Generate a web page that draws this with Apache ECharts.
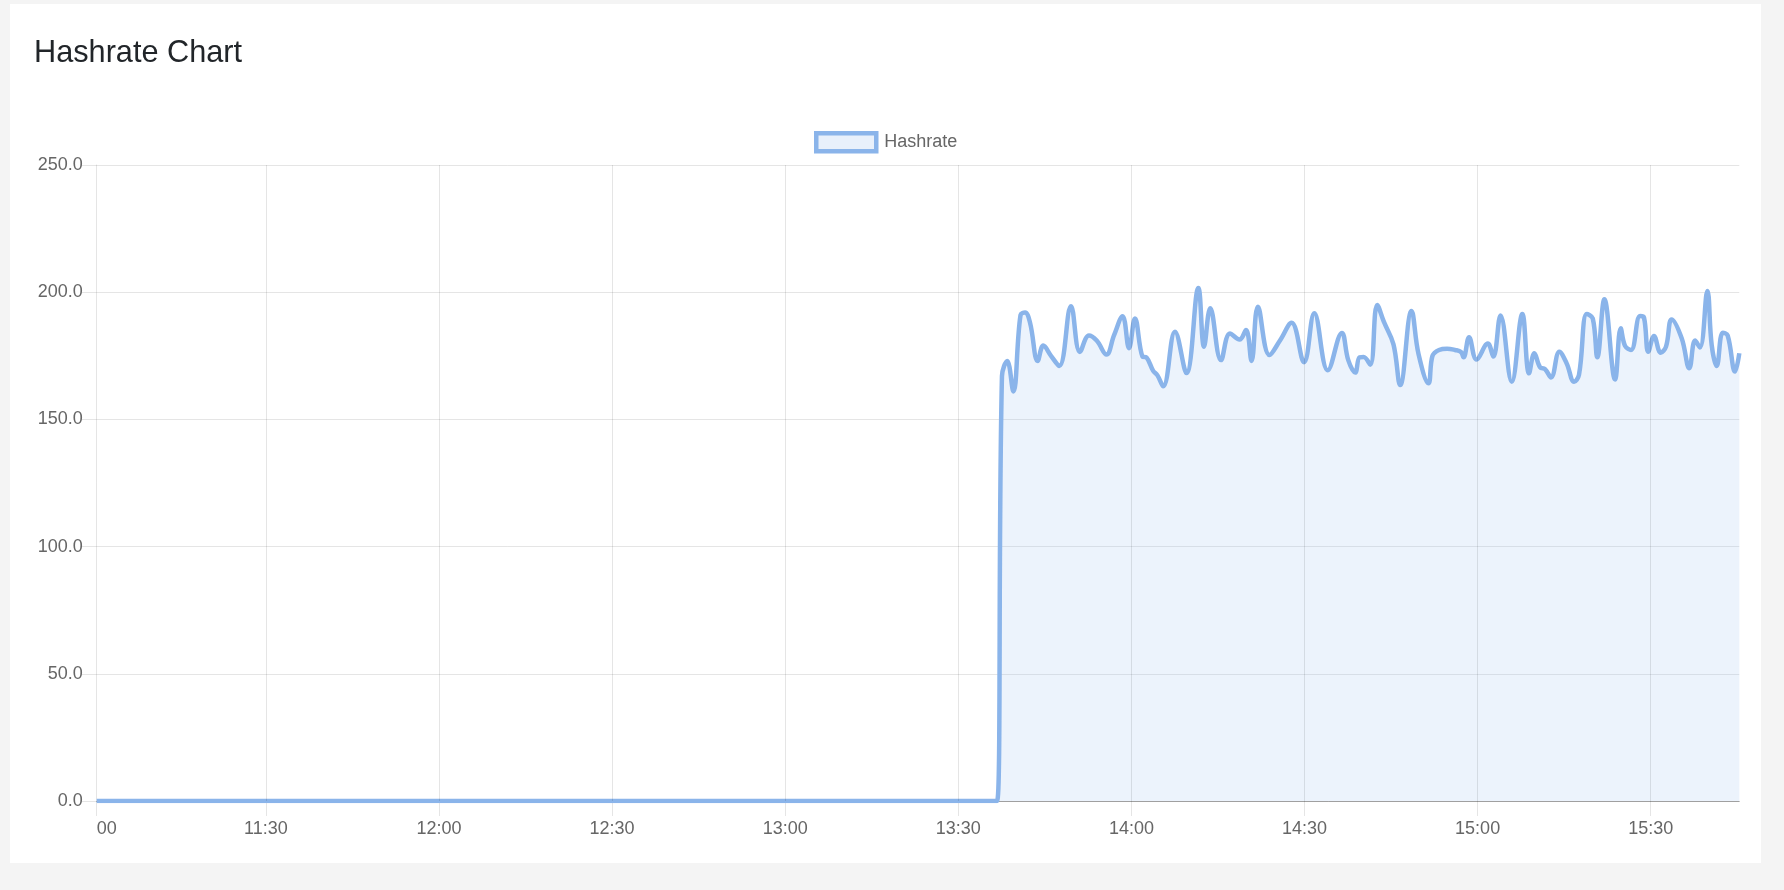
<!DOCTYPE html>
<html>
<head>
<meta charset="utf-8">
<script src="https://cdn.jsdelivr.net/npm/echarts@6/dist/echarts.min.js"></script>
<style>
html,body{margin:0;padding:0;width:1784px;height:890px;background:#f4f4f4;overflow:hidden;}
#card{position:absolute;left:10px;top:4px;width:1751px;height:859px;background:#ffffff;}
#chart{position:absolute;left:0;top:0;width:1784px;height:890px;}
</style>
</head>
<body>
<div id="card"></div>
<div id="chart"></div>
<script>
const chartTitle = 'Hashrate Chart';
const seriesName = 'Hashrate';
const baseDate = '2024-01-01';
const axisStart = '11:00:41';
const axisEnd = '15:45:21';
const xTickTimes = ['11:00:41', '11:30:00', '12:00:00', '12:30:00', '13:00:00', '13:30:00', '14:00:00', '14:30:00', '15:00:00', '15:30:00'];
const xTickLabels = ['00', '11:30', '12:00', '12:30', '13:00', '13:30', '14:00', '14:30', '15:00', '15:30'];
const yTickValues = [0, 50, 100, 150, 200, 250];

const sampleTimes = [
  '11:00:41','13:35:43','13:36:43','13:37:34','13:38:29','13:39:32','13:40:47','13:41:34','13:42:26','13:43:46',
  '13:44:44','13:46:04','13:47:30','13:49:32','13:51:05','13:52:39','13:53:59','13:55:41','13:56:59','13:58:28',
  '13:59:35','14:00:37','14:01:55','14:02:37','14:03:45','14:04:31','14:05:31','14:07:33','14:09:33','14:11:36',
  '14:12:35','14:13:40','14:15:32','14:17:05','14:18:44','14:19:52','14:20:49','14:21:55','14:23:56','14:25:45',
  '14:27:45','14:29:55','14:31:42','14:34:02','14:36:28','14:37:35','14:38:47','14:39:32','14:40:14','14:41:23',
  '14:42:36','14:43:47','14:45:25','14:46:35','14:48:32','14:49:46','14:51:29','14:52:11','14:53:19','14:54:42',
  '14:56:05','14:57:07','14:57:34','14:58:31','14:59:49','15:01:46','15:02:43','15:03:58','15:05:55','15:07:45',
  '15:08:55','15:09:50','15:10:49','15:11:41','15:12:43','15:14:10','15:15:26','15:16:43','15:17:34','15:18:55',
  '15:19:57','15:20:45','15:21:58','15:23:49','15:24:48','15:25:33','15:26:35','15:28:09','15:28:50','15:29:35',
  '15:30:34','15:31:44','15:32:39','15:33:38','15:35:22','15:36:41','15:37:41','15:38:32','15:39:49','15:40:34',
  '15:41:26','15:42:29','15:43:20','15:44:37','15:45:21'
];
const hashrateValues = [
  0, 0, 0, 167, 173, 161, 191, 192, 188, 173,
  179, 175, 171, 194.5, 176.5, 183, 181, 175.5, 183, 190.5,
  178, 189.7, 174.7, 174.3, 169.2, 167.3, 163, 184.5, 168.2, 201.7,
  178.6, 193.7, 173.3, 183.8, 181.4, 185.1, 173, 194.3, 175.3, 181,
  188, 172.5, 191.7, 169.3, 184, 173.3, 168.4, 174.4, 174.5, 171.5,
  195, 188.2, 179.5, 163.5, 192.6, 175.6, 164.2, 175, 177.3, 177.8,
  177.3, 176.5, 174.4, 182.3, 173.5, 179.8, 174.7, 190.8, 164.8, 191.4,
  168.1, 176, 170.5, 169.8, 166.5, 176.6, 172, 164.8, 167.5, 191.4,
  189.7, 174.4, 197.2, 165.7, 185.8, 178.9, 177.3, 190.6, 190, 176.6,
  182.8, 176.2, 178.6, 189.3, 181.9, 170.1, 181, 178.3, 200.5, 179.2,
  171, 184.1, 183, 168.8, 176
];

function toMs(t) { return new Date(baseDate + 'T' + t).getTime(); }
const xMin = toMs(axisStart);
const xMax = toMs(axisEnd);
const xTickMs = xTickTimes.map(toMs);
const seriesData = sampleTimes.map((t, i) => [toMs(t), hashrateValues[i]]);

const lineColor = 'rgb(138,180,234)';
const fillColor = 'rgba(138,180,234,0.23)';
const legendFill = 'rgba(138,180,234,0.2)';
const gridColor = 'rgba(0,0,0,0.1)';
const FONT = '"Liberation Sans", Arial, Helvetica, sans-serif';

const chart = echarts.init(document.getElementById('chart'), null, {renderer: 'canvas'});
chart.setOption({
  backgroundColor: 'transparent',
  animation: false,
  title: {
    text: chartTitle,
    left: 34,
    top: 38,
    padding: 0,
    textStyle: {fontSize: 30.7, fontWeight: 'normal', color: '#212529', fontFamily: FONT}
  },
  legend: {
    left: 814,
    top: 131,
    padding: 0,
    itemWidth: 60,
    itemHeight: 18,
    icon: 'rect',
    itemStyle: {color: legendFill, borderColor: lineColor, borderWidth: 4.5},
    lineStyle: {opacity: 0},
    textStyle: {fontSize: 18, color: '#666666', fontFamily: FONT, padding: [0, 0, 0, 3]},
    data: [{name: seriesName, icon: 'rect', itemStyle: {color: legendFill, borderColor: lineColor, borderWidth: 4.5}}]
  },
  grid: {left: 96.7, right: 44.7, top: 165, bottom: 89, outerBoundsMode: 'none', containLabel: false},
  xAxis: {
    type: 'value',
    min: xMin,
    max: xMax,
    axisLine: {show: true, onZero: false, lineStyle: {color: 'rgba(0,0,0,0.3)', width: 1}},
    axisTick: {show: true, length: 15, customValues: xTickMs, lineStyle: {color: gridColor}},
    splitLine: {show: false},
    axisLabel: {
      show: true,
      customValues: xTickMs,
      margin: 19,
      fontSize: 18,
      color: '#666666',
      fontFamily: FONT,
      alignMinLabel: 'left',
      hideOverlap: false,
      formatter: function (value) {
        let best = 0, bestD = Infinity;
        xTickMs.forEach((m, i) => { const d = Math.abs(m - value); if (d < bestD) { bestD = d; best = i; } });
        return xTickLabels[best];
      }
    }
  },
  yAxis: {
    type: 'value',
    min: yTickValues[0],
    max: yTickValues[yTickValues.length - 1],
    interval: yTickValues[1] - yTickValues[0],
    axisLine: {show: true, lineStyle: {color: gridColor, width: 1}},
    axisTick: {show: true, length: 15, lineStyle: {color: gridColor}},
    splitLine: {show: true, lineStyle: {color: gridColor, width: 1}},
    axisLabel: {
      margin: 14,
      fontSize: 18,
      color: '#666666',
      fontFamily: FONT,
      formatter: function (v) { return v.toFixed(1); }
    }
  },
  series: [{
    name: seriesName,
    type: 'line',
    data: seriesData,
    smooth: 0.4,
    showSymbol: false,
    symbol: 'none',
    lineStyle: {color: lineColor, width: 4.5},
    itemStyle: {color: lineColor},
    areaStyle: {color: fillColor, origin: 'start'},
    markLine: {
      silent: true,
      symbol: ['none', 'none'],
      label: {show: false},
      animation: false,
      lineStyle: {color: gridColor, width: 1, type: 'solid'},
      emphasis: {disabled: true},
      data: xTickMs.slice(1).map(m => ({xAxis: m}))
    }
  }]
});
</script>
</body>
</html>
